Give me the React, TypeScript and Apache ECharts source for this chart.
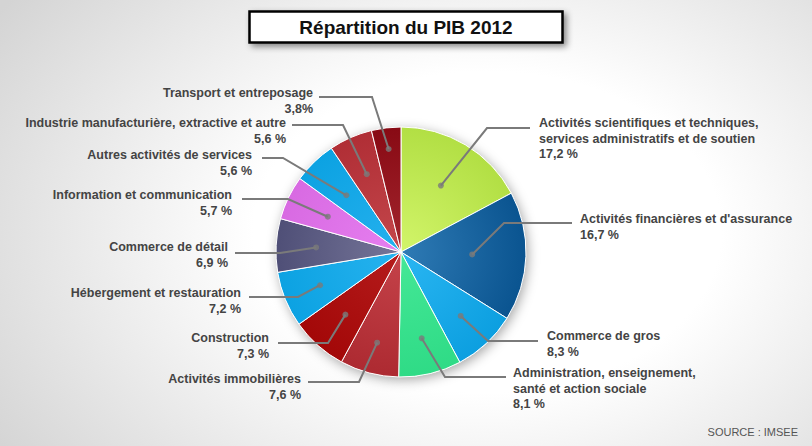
import React, { useEffect, useRef } from 'react';
import * as echarts from 'echarts';

// ---- data ----
const CATEGORIES = [
  "Activités scientifiques et techniques,\nservices administratifs et de soutien",
  "Activités financières et d'assurance",
  "Commerce de gros",
  "Administration, enseignement,\nsanté et action sociale",
  "Activités immobilières",
  "Construction",
  "Hébergement et restauration",
  "Commerce de détail",
  "Information et communication",
  "Autres activités de services",
  "Industrie manufacturière, extractive et autre",
  "Transport et entreposage",
];
const VALUES = [17.2, 16.7, 8.3, 8.1, 7.6, 7.3, 7.2, 6.9, 5.7, 5.6, 5.6, 3.8];
const VALUE_LABELS = ["17,2 %", "16,7 %", "8,3 %", "8,1 %", "7,6 %", "7,3 %", "7,2 %", "6,9 %", "5,7 %", "5,6 %", "5,6 %", "3,8%"];

// ---- styles / layout ----
const SLICE_COLORS: [string, string][] = [
  ['#d2f56a', '#b2df44'],
  ['#2f7bb5', '#0a5490'],
  ['#2ab6f2', '#0c9fe0'],
  ['#45e897', '#2fdb86'],
  ['#c5434a', '#ad2a31'],
  ['#b51c1c', '#a30808'],
  ['#27b3ef', '#0ca2e2'],
  ['#767699', '#4f4f77'],
  ['#e67ff0', '#d86ae2'],
  ['#25b1ee', '#0ca2e2'],
  ['#c4474c', '#b02e35'],
  ['#a3262e', '#880a14'],
];
const CX = 401, CY = 252, R = 125;
const DOT_R = [0.62, 0.57, 0.7, 0.71, 0.75, 0.67, 0.7, 0.68, 0.65, 0.63, 0.68, 0.83];
const LH = 15.5;
// label anchor: [align, x, first-line center y, elbowX, elbowY, endX]
const LABEL_LAYOUT: [string, number, number, number, number, number][] = [
  ['left', 539, 123, 487, 128, 530],
  ['left', 580, 219, 504, 223, 572],
  ['left', 547, 336, 488, 341, 538],
  ['left', 513, 373, 445, 377, 506],
  ['right', 301, 379, 359, 382, 308],
  ['right', 269, 338, 328, 343, 278],
  ['right', 241, 293, 298, 297, 249],
  ['right', 228, 247, 280, 253, 235],
  ['right', 232, 195, 288, 199, 242],
  ['right', 252, 155, 283, 158, 262],
  ['right', 286, 123, 343, 125, 292],
  ['right', 313, 93, 372, 97, 319],
];

export default function App() {
  const ref = useRef<HTMLDivElement>(null);
  useEffect(() => {
    if (!ref.current) return;
    const chart = echarts.init(ref.current, undefined, { renderer: 'svg' });
    const total = VALUES.reduce((a, b) => a + b, 0);
    const mids: number[] = [];
    let cum = 0;
    VALUES.forEach((v) => {
      mids.push(((cum + v / 2) / total) * 100);
      cum += v;
    });
    const dotPoint = (i: number) => {
      const t = (mids[i] / 100) * Math.PI * 2;
      const rr = DOT_R[i] * R;
      return [CX + rr * Math.sin(t), CY - rr * Math.cos(t)];
    };
    const font = "'Liberation Sans', Arial, sans-serif";
    const leaderLines = VALUES.map((v, i) => {
      const L = LABEL_LAYOUT[i];
      return {
        type: 'polyline',
        z: 4,
        silent: true,
        shape: { points: [dotPoint(i), [L[3], L[4]], [L[5], L[4]]] },
        style: { stroke: '#7a7a7a', lineWidth: 2, fill: null },
      };
    });
    chart.setOption({
      animation: false,
      title: [
        {
          text: 'Répartition du PIB 2012',
          left: 'center',
          top: 11,
          padding: [6, 50],
          backgroundColor: '#fff',
          borderColor: '#000',
          borderWidth: 2.5,
          shadowBlur: 6,
          shadowColor: 'rgba(0,0,0,0.45)',
          shadowOffsetX: 3,
          shadowOffsetY: 3,
          textStyle: { fontFamily: font, fontSize: 19, fontWeight: 'bold', color: '#111', lineHeight: 20 },
        },
        {
          text: 'SOURCE : IMSEE',
          right: 9,
          top: 421,
          textStyle: { fontFamily: font, fontSize: 11, fontWeight: 'normal', color: '#555' },
        },
      ],
      graphic: leaderLines,
      polar: { center: [CX, CY], radius: R },
      angleAxis: { type: 'value', min: 0, max: 100, startAngle: 90, clockwise: true, show: false },
      radiusAxis: { type: 'value', min: 0, max: 1, show: false },
      series: [
        {
          type: 'pie',
          center: [CX, CY],
          radius: R,
          silent: true,
          z: 1,
          label: { show: false },
          labelLine: { show: false },
          itemStyle: {
            color: '#ffffff',
            shadowBlur: 12,
            shadowColor: 'rgba(0,0,0,0.35)',
            shadowOffsetX: 2,
            shadowOffsetY: 3,
          },
          data: [{ value: 1, name: '' }],
        },
        {
          type: 'pie',
          center: [CX, CY],
          radius: R,
          startAngle: 90,
          clockwise: true,
          avoidLabelOverlap: false,
          z: 2,
          itemStyle: { borderColor: '#ffffff', borderWidth: 1 },
          label: {
            show: true,
            position: 'outside',
            fontFamily: font,
            fontSize: 12.5,
            fontWeight: 'bold',
            color: '#444',
            lineHeight: LH,
            formatter: (p: any) => p.name + '\n' + VALUE_LABELS[p.dataIndex],
          },
          labelLine: { show: false },
          labelLayout: (params: any) => {
            const L = LABEL_LAYOUT[params.dataIndex];
            return {
              x: L[1],
              y: L[2] - LH / 2,
              align: L[0],
              verticalAlign: 'top',
            };
          },
          data: VALUES.map((v, i) => ({
            value: v,
            name: CATEGORIES[i],
            itemStyle: {
              color: {
                type: 'radial',
                x: CX,
                y: CY,
                r: R,
                global: true,
                colorStops: [
                  { offset: 0, color: SLICE_COLORS[i][0] },
                  { offset: 1, color: SLICE_COLORS[i][1] },
                ],
              },
            },
          })),
        },
        {
          type: 'scatter',
          coordinateSystem: 'polar',
          silent: true,
          z: 5,
          symbolSize: 6,
          itemStyle: { color: '#7a7a7a' },
          data: VALUES.map((v, i) => [DOT_R[i], mids[i]]),
        },
      ],
    });
    return () => chart.dispose();
  }, []);
  return (
    <div
      ref={ref}
      style={{
        position: 'absolute',
        left: 0,
        top: 0,
        width: 812,
        height: 446,
        background: 'radial-gradient(ellipse 72% 90% at 60% 52%, #ffffff 40%, #d4d4d4 100%)',
      }}
    />
  );
}
